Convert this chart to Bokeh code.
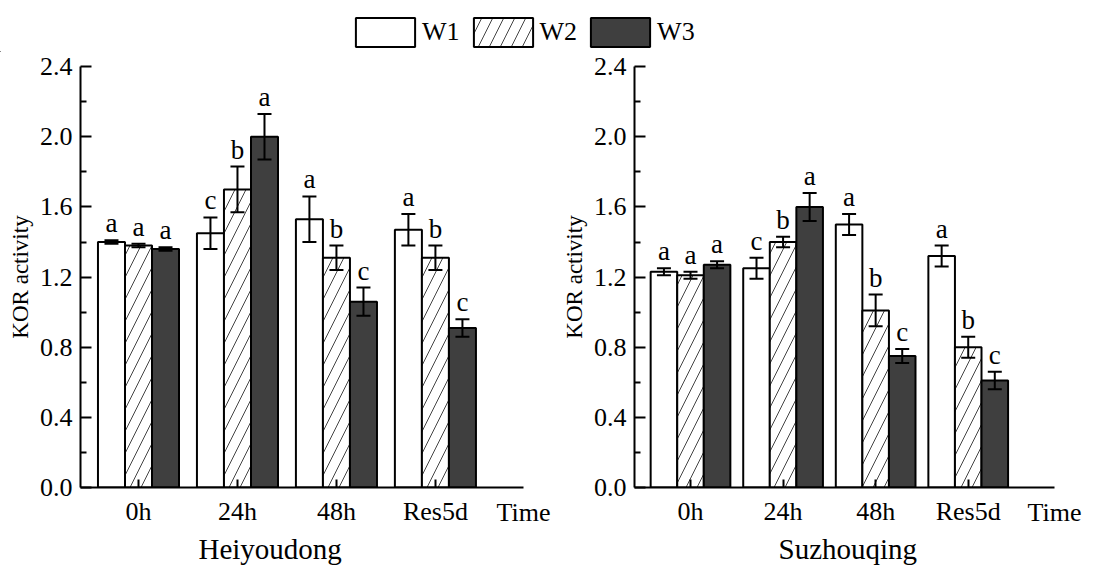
import numpy as np
from bokeh.plotting import figure
from bokeh.models import (ColumnDataSource, Range1d, Whisker, TeeHead, LabelSet, Title,
                          FixedTicker, PrintfTickFormatter, Legend, LegendItem)
from bokeh.layouts import column, row
from bokeh.core.properties import value
from bokeh.embed import file_html
from bokeh.resources import INLINE

# ---------------- data ----------------
times = ["0h", "24h", "48h", "Res5d"]
series = ["W1", "W2", "W3"]

hei_W1 = [1.40, 1.45, 1.53, 1.47]
hei_W2 = [1.38, 1.70, 1.31, 1.31]
hei_W3 = [1.36, 2.00, 1.06, 0.91]
hei_W1_err = [0.01, 0.09, 0.13, 0.09]
hei_W2_err = [0.01, 0.13, 0.07, 0.07]
hei_W3_err = [0.01, 0.13, 0.08, 0.05]
hei_W1_sig = ["a", "c", "a", "a"]
hei_W2_sig = ["a", "b", "b", "b"]
hei_W3_sig = ["a", "a", "c", "c"]

suz_W1 = [1.23, 1.25, 1.50, 1.32]
suz_W2 = [1.21, 1.40, 1.01, 0.80]
suz_W3 = [1.27, 1.60, 0.75, 0.61]
suz_W1_err = [0.02, 0.06, 0.06, 0.06]
suz_W2_err = [0.02, 0.03, 0.09, 0.06]
suz_W3_err = [0.02, 0.08, 0.04, 0.05]
suz_W1_sig = ["a", "c", "a", "a"]
suz_W2_sig = ["a", "b", "b", "b"]
suz_W3_sig = ["a", "a", "c", "c"]

y_ticks = [0.0, 0.4, 0.8, 1.2, 1.6, 2.0, 2.4]
y_minor_ticks = [0.2, 0.6, 1.0, 1.4, 1.8, 2.2]

y_label = "KOR activity"
x_label = "Time"
panel_names = ["Heiyoudong", "Suzhouqing"]

# ---------------- style ----------------
FONT = "Liberation Serif"
styles = {
    "W1": dict(fill_color="white", line_color="black", line_width=2),
    "W2": dict(fill_color="white", line_color="black", line_width=2,
               hatch_pattern="/", hatch_color="#444444", hatch_weight=1, hatch_scale=22),
    "W3": dict(fill_color="#3f3f3f", line_color="black", line_width=2),
}
offsets = [-1, 0, 1]


def make_panel(name, vals, errs, sigs, x_start, x_end, bar_w, width, bl, br, title_off):
    p = figure(width=width, height=513, x_range=Range1d(x_start, x_end), y_range=Range1d(0, 2.401),
               toolbar_location=None, output_backend="svg",
               min_border_left=bl, min_border_right=br, min_border_top=14, min_border_bottom=74,
               outline_line_color=None, background_fill_color="white")
    p.xgrid.visible = False
    p.ygrid.visible = False
    idx = np.arange(len(times))
    for s, off, v, e, sg in zip(series, offsets, vals, errs, sigs):
        xs = idx + off * bar_w
        v = np.array(v)
        e = np.array(e)
        src = ColumnDataSource(dict(x=xs, top=v, upper=v + e, lower=v - e, sig=sg))
        p.vbar(x="x", top="top", bottom=0, width=bar_w, source=src, **styles[s])
        wk = Whisker(source=src, base="x", upper="upper", lower="lower", line_width=2, line_color="black",
                     upper_head=TeeHead(size=14, line_width=2, line_color="black"),
                     lower_head=TeeHead(size=14, line_width=2, line_color="black"),
                     level="annotation")
        p.add_layout(wk)
        ls = LabelSet(source=src, x="x", y="upper", text="sig", text_align="center",
                      text_baseline="alphabetic", y_offset=8,
                      text_font=value(FONT), text_font_size=value("27px"), text_color="black")
        p.add_layout(ls)

    # y axis
    ya = p.yaxis[0]
    ya.ticker = FixedTicker(ticks=y_ticks, minor_ticks=y_minor_ticks)
    ya.formatter = PrintfTickFormatter(format="%.1f")
    ya.axis_label = y_label
    ya.axis_label_text_font = FONT
    ya.axis_label_text_font_style = "normal"
    ya.axis_label_text_font_size = "23px"
    ya.axis_label_text_color = "black"
    ya.axis_label_standoff = 4
    ya.major_label_text_font = FONT
    ya.major_label_text_font_size = "26px"
    ya.major_label_text_color = "black"
    ya.major_label_standoff = 8
    ya.major_tick_in = 11
    ya.major_tick_out = 0
    ya.minor_tick_in = 6
    ya.minor_tick_out = 0
    ya.axis_line_width = 2
    ya.major_tick_line_width = 2
    ya.minor_tick_line_width = 2

    # x axis
    xa = p.xaxis[0]
    xa.ticker = FixedTicker(ticks=list(range(len(times))))
    xa.major_label_overrides = {i: t for i, t in enumerate(times)}
    xa.major_label_text_font = FONT
    xa.major_label_text_font_size = "26px"
    xa.major_label_text_color = "black"
    xa.major_label_standoff = 9
    xa.major_tick_in = 8
    xa.major_tick_out = 0
    xa.minor_tick_in = 0
    xa.minor_tick_out = 0
    xa.axis_line_width = 2
    xa.major_tick_line_width = 2
    xa.axis_label = x_label
    xa.axis_label_align = "end"
    xa.axis_label_text_font = FONT
    xa.axis_label_text_font_style = "normal"
    xa.axis_label_text_font_size = "26px"
    xa.axis_label_text_color = "black"
    xa.axis_label_standoff = -31

    t = Title(text=name, align="left", offset=title_off, standoff=2,
              text_font=FONT, text_font_size="29px", text_font_style="normal", text_color="black")
    p.add_layout(t, "below")
    return p


p1 = make_panel(panel_names[0], [hei_W1, hei_W2, hei_W3], [hei_W1_err, hei_W2_err, hei_W3_err],
                [hei_W1_sig, hei_W2_sig, hei_W3_sig], -0.586, 3.89, 0.273, 556, 80, 33, 118)
p2 = make_panel(panel_names[1], [suz_W1, suz_W2, suz_W3], [suz_W1_err, suz_W2_err, suz_W3_err],
                [suz_W1_sig, suz_W2_sig, suz_W3_sig], -0.605, 3.932, 0.287, 563, 78, 65, 144)

# legend figure
lf = figure(width=1119, height=52, x_range=Range1d(0, 1), y_range=Range1d(0, 1),
            x_axis_type=None, y_axis_type=None, toolbar_location=None, output_backend="svg",
            min_border=0, outline_line_color=None)
lf.grid.visible = False
items = []
for s in series:
    r = lf.vbar(x=[-5], top=[-5], bottom=[-6], width=0.1, **styles[s])
    items.append(LegendItem(label=s, renderers=[r]))
leg = Legend(items=items, orientation="horizontal", location=(348, 2), glyph_width=74, glyph_height=36,
             label_standoff=0, spacing=6, padding=0, margin=0, border_line_color=None,
             background_fill_alpha=0, label_text_font=FONT, label_text_font_size="26px",
             label_text_color="black")
lf.add_layout(leg, "center")

layout = column(lf, row(p1, p2))
open("out.html", "w").write(file_html(layout, INLINE))
